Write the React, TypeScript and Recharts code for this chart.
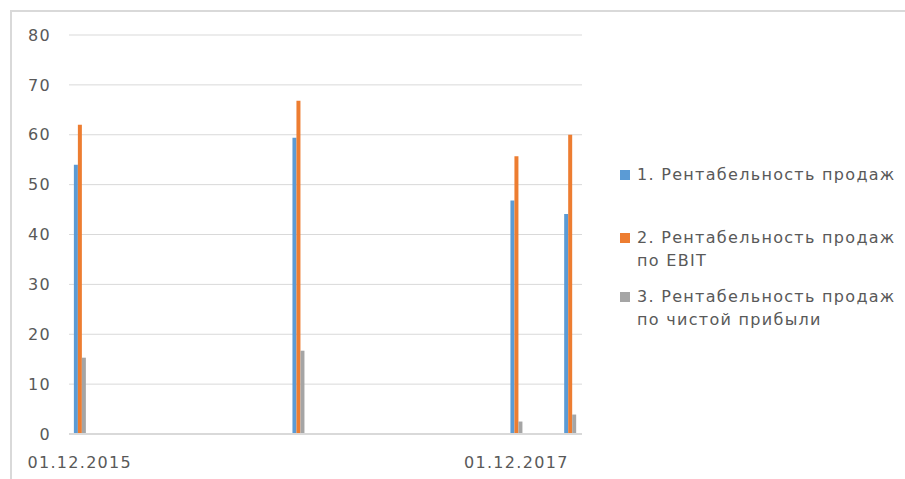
import { BarChart, Bar, XAxis, YAxis, CartesianGrid, Legend } from 'recharts';

// Report dates (dd.mm.yyyy on the axis)
const DATES = ['2015-12-01', '2016-12-01', '2017-12-01', '2018-03-01'];
const X_TICK_DATES = ['2015-12-01', '2017-12-01'];
const Y_TICKS = [0, 10, 20, 30, 40, 50, 60, 70, 80];

const SERIES_NAMES = [
  '1. Рентабельность продаж',
  '2. Рентабельность продаж по EBIT',
  '3. Рентабельность продаж по чистой прибыли',
];
const SALES = [54, 59.4, 46.8, 44.1];
const EBIT = [62, 66.8, 55.7, 60];
const NET_PROFIT = [15.3, 16.7, 2.5, 3.9];

const COLORS = ['#5B9BD5', '#ED7D31', '#A5A5A5'];
const TEXT = '#595959';
const GRID = '#D9D9D9';
const FONT = '"DejaVu Sans", sans-serif';

const DAY = 24 * 3600 * 1000;
const toTime = (d: string) => Date.parse(d + 'T00:00:00Z');

const chartData = DATES.map((d, i) => ({
  date: toTime(d),
  sales: SALES[i],
  ebit: EBIT[i],
  net: NET_PROFIT[i],
}));

const xTicks = X_TICK_DATES.map(toTime);
const xDomain = [toTime(DATES[0]) - 18 * DAY, toTime(DATES[DATES.length - 1]) + 20 * DAY];

const formatDate = (t: number) => {
  const d = new Date(t);
  const dd = String(d.getUTCDate()).padStart(2, '0');
  const mm = String(d.getUTCMonth() + 1).padStart(2, '0');
  return `${dd}.${mm}.${d.getUTCFullYear()}`;
};

const tickStyle = { fontSize: 16, fill: TEXT, fontFamily: FONT, letterSpacing: 1.3 };

// vertical offsets of the legend entries, as in the original
const LEGEND_TOPS = [0, 63, 122];

function renderLegend(props: any) {
  const payload = props.payload || [];
  return (
    <div style={{ position: 'relative', width: 290, height: 200, fontFamily: FONT }}>
      {payload.map((entry: any, i: number) => (
        <div
          key={`leg-${i}`}
          style={{ position: 'absolute', left: 0, top: LEGEND_TOPS[i], display: 'flex', alignItems: 'flex-start' }}
        >
          <span
            style={{ width: 10, height: 10, background: entry.color, marginTop: 6.5, marginRight: 7, flexShrink: 0 }}
          />
          <span
            style={{ width: 268, fontSize: 16, lineHeight: '23px', color: TEXT, letterSpacing: 1.3 }}
          >
            {entry.value}
          </span>
        </div>
      ))}
    </div>
  );
}

export default function App() {
  return (
    <div style={{ position: 'absolute', left: 0, top: 0, width: 905, height: 479, overflow: 'hidden', background: '#fff' }}>
      <div
        style={{
          position: 'absolute',
          left: 10,
          top: 10,
          width: 900,
          height: 480,
          borderTop: `2px solid ${GRID}`,
          borderLeft: `2px solid ${GRID}`,
        }}
      />
      <BarChart
        width={905}
        height={479}
        data={chartData}
        margin={{ top: 35, right: 323, bottom: 15, left: 29 }}
        barGap={0}
        style={{ position: 'absolute', left: 0, top: 0 }}
      >
        <CartesianGrid vertical={false} stroke={GRID} />
        <XAxis
          dataKey="date"
          type="number"
          domain={xDomain}
          ticks={xTicks}
          tickFormatter={formatDate}
          tick={tickStyle}
          tickLine={false}
          axisLine={{ stroke: GRID, strokeWidth: 2 }}
          tickMargin={17}
          height={30}
          allowDataOverflow
        />
        <YAxis
          domain={[0, 80]}
          ticks={Y_TICKS}
          tick={tickStyle}
          tickLine={false}
          axisLine={false}
          tickMargin={12}
          width={40}
        />
        <Legend
          layout="vertical"
          align="center"
          verticalAlign="middle"
          width={290}
          content={renderLegend}
          wrapperStyle={{ left: 620, top: 163, width: 290 }}
        />
        <Bar dataKey="sales" name={SERIES_NAMES[0]} fill={COLORS[0]} barSize={4} isAnimationActive={false} />
        <Bar dataKey="ebit" name={SERIES_NAMES[1]} fill={COLORS[1]} barSize={4} isAnimationActive={false} />
        <Bar dataKey="net" name={SERIES_NAMES[2]} fill={COLORS[2]} barSize={4} isAnimationActive={false} />
      </BarChart>
    </div>
  );
}
